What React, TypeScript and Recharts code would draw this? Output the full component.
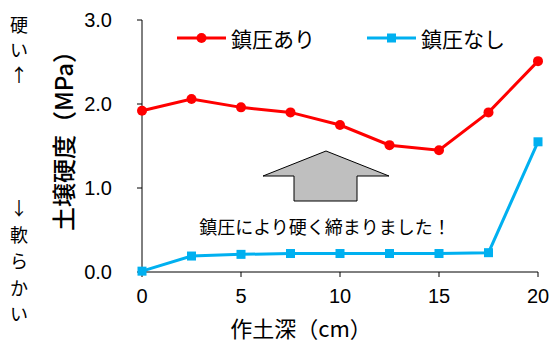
import { LineChart, Line, XAxis, YAxis, Legend } from 'recharts';

// 作土深（cm）
const depths = [0, 2.5, 5, 7.5, 10, 12.5, 15, 17.5, 20];
// 土壌硬度（MPa）
const withRolling = [1.92, 2.06, 1.96, 1.9, 1.75, 1.51, 1.45, 1.9, 2.51];
const withoutRolling = [0.01, 0.19, 0.21, 0.22, 0.22, 0.22, 0.22, 0.23, 1.55];
const xTicks = [0, 5, 10, 15, 20];
const yTicks = [0, 1, 2, 3];

const RED = '#ff0000';
const BLUE = '#00b0f0';
const FONT = '"Liberation Sans", Arial, "Noto Sans CJK JP", sans-serif';
const JP = '"Noto Sans CJK JP", "Liberation Sans", sans-serif';

const data = depths.map((d, i) => ({ depth: d, a: withRolling[i], b: withoutRolling[i] }));

const SquareDot = (props: any) => {
  const { cx, cy } = props;
  if (cx == null || cy == null) return null;
  return <rect x={cx - 4.5} y={cy - 4.5} width={9} height={9} fill={BLUE} />;
};

const LegendContent = () => (
  <div style={{ display: 'flex', alignItems: 'center', fontFamily: JP, fontSize: 21, color: '#000' }}>
    <svg width={49} height={12}>
      <line x1={0} y1={6} x2={49} y2={6} stroke={RED} strokeWidth={3} />
      <circle cx={24.5} cy={6} r={5} fill={RED} />
    </svg>
    <span style={{ marginLeft: 5, marginRight: 52 }}>鎮圧あり</span>
    <svg width={49} height={12}>
      <line x1={0} y1={6} x2={49} y2={6} stroke={BLUE} strokeWidth={3} />
      <rect x={20} y={1.5} width={9} height={9} fill={BLUE} />
    </svg>
    <span style={{ marginLeft: 5 }}>鎮圧なし</span>
  </div>
);

export default function App() {
  return (
    <div style={{ position: 'absolute', left: 0, top: 0, width: 555, height: 344, background: '#fff' }}>
      <LineChart width={555} height={344} data={data} margin={{ top: 20, right: 17, bottom: 32, left: 0 }}>
        <XAxis
          dataKey="depth"
          type="number"
          domain={[0, 20]}
          ticks={xTicks}
          height={40}
          tickSize={5}
          tickMargin={12}
          stroke="#000"
          tick={{ fill: '#000', fontSize: 20, fontFamily: FONT }}
        />
        <YAxis
          domain={[0, 3]}
          ticks={yTicks}
          width={142}
          tickSize={5}
          tickMargin={25}
          stroke="#000"
          tickFormatter={(v: number) => v.toFixed(1)}
          tick={{ fill: '#000', fontSize: 20, fontFamily: FONT }}
        />
        <Legend
          verticalAlign="middle"
          layout="horizontal"
          align="center"
          content={<LegendContent />}
          wrapperStyle={{ top: 23, left: 177, width: 360 }}
        />
        <Line
          dataKey="a"
          stroke={RED}
          strokeWidth={3}
          dot={{ r: 5, fill: RED, stroke: RED, strokeWidth: 0 }}
          isAnimationActive={false}
        />
        <Line
          dataKey="b"
          stroke={BLUE}
          strokeWidth={3}
          dot={<SquareDot />}
          isAnimationActive={false}
        />
      </LineChart>
      <svg
        width={555}
        height={344}
        style={{ position: 'absolute', left: 0, top: 0, pointerEvents: 'none' }}
      >
        <polygon
          points="326,151 389,176 357,176 357,201 294,201 294,176 263,176"
          fill="#bfbfbf"
          stroke="#000"
          strokeWidth={1}
        />
        <text x={325} y={226} textAnchor="middle" dominantBaseline="central" fontFamily={JP} fontSize={18}>
          鎮圧により硬く締まりました！
        </text>
        <text
          x={62}
          y={135}
          textAnchor="middle"
          dominantBaseline="central"
          fontFamily={JP}
          fontSize={24}
          fontWeight={500}
          transform="rotate(-90 62 135)"
        >
          土壌硬度（MPa）
        </text>
        <text x={301} y={327} textAnchor="middle" dominantBaseline="central" fontFamily={JP} fontSize={22}>
          作土深（cm）
        </text>
        {['硬', 'い', '↑'].map((c, i) => (
          <text key={'h' + i} x={19} y={24 + i * 25} textAnchor="middle" dominantBaseline="central" fontFamily={JP} fontSize={18}>
            {c}
          </text>
        ))}
        {['↓', '軟', 'ら', 'か', 'い'].map((c, i) => (
          <text key={'s' + i} x={19} y={207 + i * 26.5} textAnchor="middle" dominantBaseline="central" fontFamily={JP} fontSize={18}>
            {c}
          </text>
        ))}
      </svg>
    </div>
  );
}
